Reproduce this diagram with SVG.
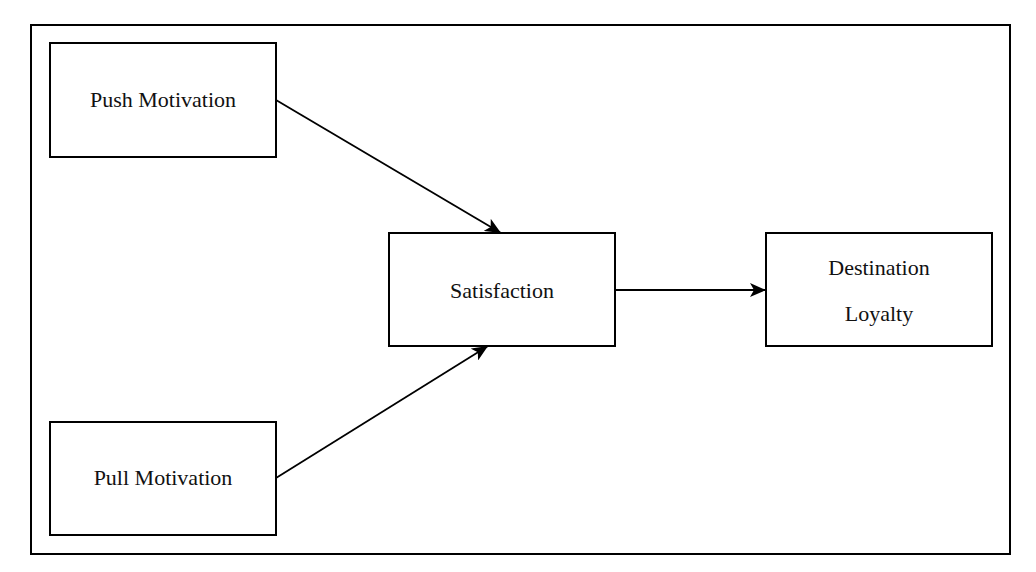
<svg xmlns="http://www.w3.org/2000/svg" width="1036" height="572" viewBox="0 0 1036 572">
<style>
.box{fill:#fff;stroke:#000;stroke-width:2}
.lbl{font-family:"Liberation Serif","Times New Roman",serif;font-size:22px;fill:#111;text-anchor:middle}
.conn{stroke:#000;stroke-width:1.8;fill:none}
</style>
<defs>
<marker id="arr" viewBox="0 0 16 14" refX="16" refY="7" markerWidth="16" markerHeight="14" markerUnits="userSpaceOnUse" orient="auto">
<path d="M0,0 L16,7 L0,14 L4,7 Z" fill="#000"/>
</marker>
</defs>
<rect x="0" y="0" width="1036" height="572" fill="#fff"/>
<rect id="frame" x="31" y="25" width="979" height="529" fill="none" stroke="#000" stroke-width="2"/>
<g id="push"><rect class="box" x="50" y="43" width="226" height="114"/><text class="lbl" x="163" y="107">Push Motivation</text></g>
<g id="pull"><rect class="box" x="50" y="422" width="226" height="113"/><text class="lbl" x="163" y="485">Pull Motivation</text></g>
<g id="satisfaction"><rect class="box" x="389" y="233" width="226" height="113"/><text class="lbl" x="502" y="298">Satisfaction</text></g>
<g id="loyalty"><rect class="box" x="766" y="233" width="226" height="113"/><text class="lbl" x="879" y="275">Destination</text><text class="lbl" x="879" y="321">Loyalty</text></g>
<g id="connectors">
<line class="conn" x1="276" y1="100" x2="501" y2="233" marker-end="url(#arr)"/>
<line class="conn" x1="276" y1="478" x2="488" y2="346" marker-end="url(#arr)"/>
<line class="conn" x1="615" y1="290" x2="766" y2="290" marker-end="url(#arr)"/>
</g>
</svg>
